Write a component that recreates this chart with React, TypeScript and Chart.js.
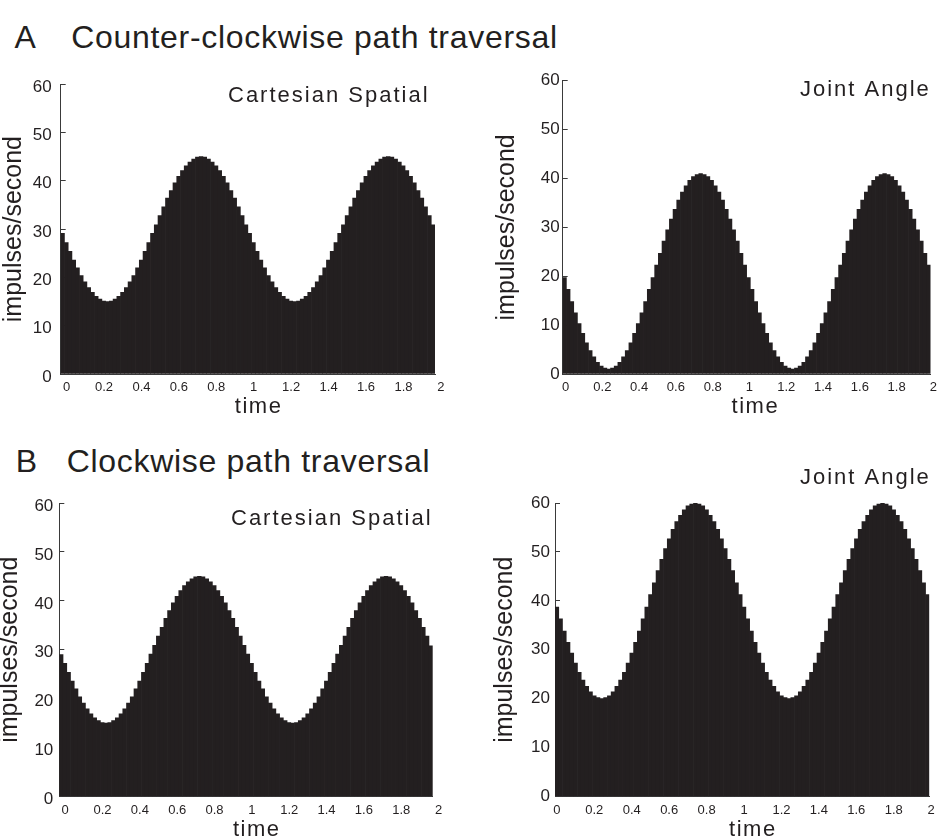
import React, { useEffect, useRef } from "react";
import { Chart, registerables } from "chart.js";

Chart.register(...registerables);

const FONT = '"Liberation Sans", Arial, Helvetica, sans-serif';
const INK = "#231f20";
const AXIS = "#3a3a3a";

// bin centres (time, s)
const TIME_BINS = [
  0.0, 0.02, 0.04, 0.06, 0.08, 0.1, 0.12, 0.14, 0.16, 0.18,
  0.2, 0.22, 0.24, 0.26, 0.28, 0.3, 0.32, 0.34, 0.36, 0.38,
  0.4, 0.42, 0.44, 0.46, 0.48, 0.5, 0.52, 0.54, 0.56, 0.58,
  0.6, 0.62, 0.64, 0.66, 0.68, 0.7, 0.72, 0.74, 0.76, 0.78,
  0.8, 0.82, 0.84, 0.86, 0.88, 0.9, 0.92, 0.94, 0.96, 0.98,
  1.0, 1.02, 1.04, 1.06, 1.08, 1.1, 1.12, 1.14, 1.16, 1.18,
  1.2, 1.22, 1.24, 1.26, 1.28, 1.3, 1.32, 1.34, 1.36, 1.38,
  1.4, 1.42, 1.44, 1.46, 1.48, 1.5, 1.52, 1.54, 1.56, 1.58,
  1.6, 1.62, 1.64, 1.66, 1.68, 1.7, 1.72, 1.74, 1.76, 1.78,
  1.8, 1.82, 1.84, 1.86, 1.88, 1.9, 1.92, 1.94, 1.96, 1.98,
];

const X_MIN = -0.01;
const X_MAX = 1.99;
const X_TICK_VALUES = [0, 0.2, 0.4, 0.6, 0.8, 1, 1.2, 1.4, 1.6, 1.8, 2];
const X_TICK_LABELS = ["0", "0.2", "0.4", "0.6", "0.8", "1", "1.2", "1.4", "1.6", "1.8", "2"];
const Y_TICK_VALUES = [0, 10, 20, 30, 40, 50, 60];

// A: counter-clockwise, Cartesian spatial (impulses/second)
const ccwCartesian = [
  29.1, 27.2, 25.4, 23.6, 22.0, 20.4, 19.1, 17.9, 16.9, 16.1,
  15.5, 15.1, 15.0, 15.1, 15.5, 16.1, 16.9, 17.9, 19.1, 20.4,
  22.0, 23.6, 25.4, 27.2, 29.1, 30.9, 32.8, 34.6, 36.4, 38.0,
  39.6, 40.9, 42.1, 43.1, 43.9, 44.5, 44.9, 45.0, 44.9, 44.5,
  43.9, 43.1, 42.1, 40.9, 39.6, 38.0, 36.4, 34.6, 32.8, 30.9,
  29.1, 27.2, 25.4, 23.6, 22.0, 20.4, 19.1, 17.9, 16.9, 16.1,
  15.5, 15.1, 15.0, 15.1, 15.5, 16.1, 16.9, 17.9, 19.1, 20.4,
  22.0, 23.6, 25.4, 27.2, 29.1, 30.9, 32.8, 34.6, 36.4, 38.0,
  39.6, 40.9, 42.1, 43.1, 43.9, 44.5, 44.9, 45.0, 44.9, 44.5,
  43.9, 43.1, 42.1, 40.9, 39.6, 38.0, 36.4, 34.6, 32.8, 30.9,
];

// A: counter-clockwise, joint angle
const ccwJoint = [
  19.7, 17.3, 14.8, 12.5, 10.3, 8.3, 6.4, 4.8, 3.5, 2.4,
  1.6, 1.2, 1.0, 1.2, 1.6, 2.4, 3.5, 4.8, 6.4, 8.3,
  10.3, 12.5, 14.8, 17.3, 19.7, 22.3, 24.7, 27.2, 29.5, 31.7,
  33.7, 35.6, 37.2, 38.5, 39.6, 40.4, 40.8, 41.0, 40.8, 40.4,
  39.6, 38.5, 37.2, 35.6, 33.7, 31.7, 29.5, 27.2, 24.7, 22.3,
  19.7, 17.3, 14.8, 12.5, 10.3, 8.3, 6.4, 4.8, 3.5, 2.4,
  1.6, 1.2, 1.0, 1.2, 1.6, 2.4, 3.5, 4.8, 6.4, 8.3,
  10.3, 12.5, 14.8, 17.3, 19.7, 22.3, 24.7, 27.2, 29.5, 31.7,
  33.7, 35.6, 37.2, 38.5, 39.6, 40.4, 40.8, 41.0, 40.8, 40.4,
  39.6, 38.5, 37.2, 35.6, 33.7, 31.7, 29.5, 27.2, 24.7, 22.3,
];

// B: clockwise, Cartesian spatial
const cwCartesian = [
  29.0, 27.2, 25.4, 23.6, 22.0, 20.4, 19.1, 17.9, 16.9, 16.1,
  15.5, 15.1, 15.0, 15.1, 15.5, 16.1, 16.9, 17.9, 19.1, 20.4,
  22.0, 23.6, 25.4, 27.2, 29.1, 30.9, 32.8, 34.6, 36.4, 38.0,
  39.6, 40.9, 42.1, 43.1, 43.9, 44.5, 44.9, 45.0, 44.9, 44.5,
  43.9, 43.1, 42.1, 40.9, 39.6, 38.0, 36.4, 34.6, 32.8, 30.9,
  29.1, 27.2, 25.4, 23.6, 22.0, 20.4, 19.1, 17.9, 16.9, 16.1,
  15.5, 15.1, 15.0, 15.1, 15.5, 16.1, 16.9, 17.9, 19.1, 20.4,
  22.0, 23.6, 25.4, 27.2, 29.1, 30.9, 32.8, 34.6, 36.4, 38.0,
  39.6, 40.9, 42.1, 43.1, 43.9, 44.5, 44.9, 45.0, 44.9, 44.5,
  43.9, 43.1, 42.1, 40.9, 39.6, 38.0, 36.4, 34.6, 32.8, 30.8,
];

// B: clockwise, joint angle
const cwJoint = [
  38.7, 36.3, 33.8, 31.5, 29.3, 27.3, 25.4, 23.8, 22.5, 21.4,
  20.6, 20.2, 20.0, 20.2, 20.6, 21.4, 22.5, 23.8, 25.4, 27.3,
  29.3, 31.5, 33.8, 36.3, 38.7, 41.3, 43.7, 46.2, 48.5, 50.7,
  52.7, 54.6, 56.2, 57.5, 58.6, 59.4, 59.8, 60.0, 59.8, 59.4,
  58.6, 57.5, 56.2, 54.6, 52.7, 50.7, 48.5, 46.2, 43.7, 41.3,
  38.7, 36.3, 33.8, 31.5, 29.3, 27.3, 25.4, 23.8, 22.5, 21.4,
  20.6, 20.2, 20.0, 20.2, 20.6, 21.4, 22.5, 23.8, 25.4, 27.3,
  29.3, 31.5, 33.8, 36.3, 38.7, 41.3, 43.7, 46.2, 48.5, 50.7,
  52.7, 54.6, 56.2, 57.5, 58.6, 59.4, 59.8, 60.0, 59.8, 59.4,
  58.6, 57.5, 56.2, 54.6, 52.7, 50.7, 48.5, 46.2, 43.7, 41.3,
];

type TextItem = {
  text: string;
  x: number;
  y: number;
  size: number;
  spacing: number;
  align: CanvasTextAlign;
  fromCenter?: boolean;
};

const panelTextPlugin = {
  id: "panelText",
  afterDraw(chart: any, _args: any, opts: any) {
    const ctx: CanvasRenderingContext2D = chart.ctx;
    const items: TextItem[] = (opts && opts.items) || [];
    for (const t of items) {
      ctx.save();
      ctx.font = `${t.size}px ${FONT}`;
      ctx.fillStyle = INK;
      ctx.textAlign = t.align;
      ctx.textBaseline = "alphabetic";
      if ("letterSpacing" in ctx) (ctx as any).letterSpacing = `${t.spacing}px`;
      const x = t.fromCenter
        ? (chart.chartArea.left + chart.chartArea.right) / 2 + t.x + t.spacing / 2
        : t.x;
      ctx.fillText(t.text, x, t.y);
      ctx.restore();
    }
  },
};

type PanelSpec = {
  key: string;
  values: number[];
  subtitle: string;
  subX: number; // page coords
  subY: number;
  canvas: { x: number; y: number; w: number; h: number };
  area: { l: number; t: number; r: number; b: number };
  yTickPad: number;
  yLabelOffset: number;
  yTitlePad: number;
  xLabelOffset: number;
  timeDx: number;
  timeY: number; // page baseline
};

const X_AXIS_H = 30;

const PANELS: PanelSpec[] = [
  {
    key: "a-cart",
    values: ccwCartesian,
    subtitle: "Cartesian Spatial",
    subX: 228,
    subY: 101.7,
    canvas: { x: 0, y: 60, w: 470, h: 360 },
    area: { l: 60.7, t: 80.7, r: 435, b: 374 },
    yTickPad: 14,
    yLabelOffset: 3,
    yTitlePad: -1.2,
    xLabelOffset: 4,
    timeDx: 10,
    timeY: 413.3,
  },
  {
    key: "a-joint",
    values: ccwJoint,
    subtitle: "Joint Angle",
    subX: 800,
    subY: 96,
    canvas: { x: 480, y: 60, w: 462, h: 360 },
    area: { l: 562.7, t: 80.7, r: 937.3, b: 374 },
    yTickPad: 8,
    yLabelOffset: 0,
    yTitlePad: 12.4,
    xLabelOffset: 1,
    timeDx: 8,
    timeY: 413.3,
  },
  {
    key: "b-cart",
    values: cwCartesian,
    subtitle: "Cartesian Spatial",
    subX: 231,
    subY: 525,
    canvas: { x: 0, y: 440, w: 470, h: 397 },
    area: { l: 59.3, t: 503, r: 432.7, b: 796.5 },
    yTickPad: 11,
    yLabelOffset: 3,
    yTitlePad: -4.4,
    xLabelOffset: 4,
    timeDx: 10,
    timeY: 836,
  },
  {
    key: "b-joint",
    values: cwJoint,
    subtitle: "Joint Angle",
    subX: 800,
    subY: 484.3,
    canvas: { x: 480, y: 440, w: 462, h: 397 },
    area: { l: 555, t: 503, r: 929.3, b: 796.5 },
    yTickPad: 10,
    yLabelOffset: 0,
    yTitlePad: 9.8,
    xLabelOffset: 0,
    timeDx: 10,
    timeY: 836,
  },
];

function Panel({ spec }: { spec: PanelSpec }) {
  const ref = useRef<HTMLCanvasElement | null>(null);

  useEffect(() => {
    const canvas = ref.current;
    if (!canvas) return;
    const c = spec.canvas;
    const a = spec.area;
    const points = TIME_BINS.map((t, i) => ({ x: t, y: spec.values[i] }));

    const chart = new Chart(canvas, {
      type: "bar",
      data: {
        datasets: [
          {
            data: points as any,
            backgroundColor: INK,
            borderWidth: 0,
            barPercentage: 1,
            categoryPercentage: 1,
          },
        ],
      },
      plugins: [panelTextPlugin as any],
      options: {
        animation: false,
        responsive: false,
        maintainAspectRatio: false,
        devicePixelRatio: 1,
        events: [],
        layout: {
          padding: {
            left: 0,
            top: a.t - c.y,
            right: c.x + c.w - a.r,
            bottom: c.y + c.h - a.b - X_AXIS_H,
          },
        },
        plugins: {
          legend: { display: false },
          tooltip: { enabled: false },
          title: { display: false },
          panelText: {
            items: [
              {
                text: spec.subtitle,
                x: spec.subX - c.x,
                y: spec.subY - c.y,
                size: 22,
                spacing: 2,
                align: "left",
              },
              {
                text: "time",
                x: spec.timeDx,
                y: spec.timeY - c.y,
                size: 22,
                spacing: 1.5,
                align: "center",
                fromCenter: true,
              },
            ],
          },
        } as any,
        scales: {
          x: {
            type: "linear",
            min: X_MIN,
            max: X_MAX,
            offset: false,
            afterBuildTicks: (s: any) => {
              s.ticks = X_TICK_VALUES.map((v) => ({ value: v }));
            },
            afterFit: (s: any) => {
              s.height = X_AXIS_H;
            },
            grid: { display: true, drawOnChartArea: false, drawTicks: false, offset: false },
            border: { display: true, color: AXIS, width: 1 },
            ticks: {
              autoSkip: false,
              maxRotation: 0,
              minRotation: 0,
              padding: 6,
              labelOffset: spec.xLabelOffset,
              color: INK,
              font: { family: FONT, size: 13 },
              callback: (_v: any, i: number) => X_TICK_LABELS[i],
            },
          },
          y: {
            type: "linear",
            min: 0,
            max: 60,
            afterBuildTicks: (s: any) => {
              s.ticks = Y_TICK_VALUES.map((v) => ({ value: v }));
            },
            afterFit: (s: any) => {
              s.width = a.l - c.x;
            },
            grid: {
              display: true,
              drawOnChartArea: false,
              drawTicks: true,
              tickLength: -5,
              color: AXIS,
              lineWidth: 1,
            },
            border: { display: true, color: AXIS, width: 1 },
            ticks: {
              padding: spec.yTickPad,
              labelOffset: spec.yLabelOffset,
              color: INK,
              font: { family: FONT, size: 17 },
              callback: (v: any) => String(v),
            },
            title: {
              display: true,
              text: "impulses/second",
              color: INK,
              font: { family: FONT, size: 25 },
              padding: { top: spec.yTitlePad, bottom: 0 },
            },
          },
        } as any,
      },
    });
    return () => chart.destroy();
  }, [spec]);

  const c = spec.canvas;
  return (
    <canvas
      ref={ref}
      width={c.w}
      height={c.h}
      style={{ position: "absolute", left: c.x, top: c.y, width: c.w, height: c.h }}
    />
  );
}

const headingStyle: React.CSSProperties = {
  position: "absolute",
  font: `32px ${FONT}`,
  lineHeight: "32px",
  color: INK,
  whiteSpace: "nowrap",
};

export default function App() {
  return (
    <div
      style={{
        position: "absolute",
        left: 0,
        top: 0,
        width: 942,
        height: 837,
        background: "#ffffff",
        overflow: "hidden",
      }}
    >
      <span style={{ ...headingStyle, left: 14.6, top: 20.8 }}>A</span>
      <span style={{ ...headingStyle, left: 71.2, top: 20.8, letterSpacing: "0.7px" }}>
        Counter-clockwise path traversal
      </span>
      <span style={{ ...headingStyle, left: 15.8, top: 444.6 }}>B</span>
      <span style={{ ...headingStyle, left: 66.7, top: 444.6, letterSpacing: "0.7px" }}>
        Clockwise path traversal
      </span>
      {PANELS.map((p) => (
        <Panel key={p.key} spec={p} />
      ))}
    </div>
  );
}
